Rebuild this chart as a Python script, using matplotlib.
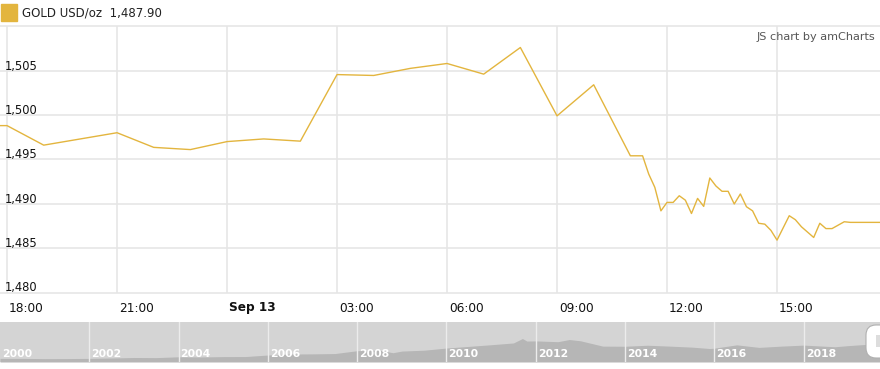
"""Gold USD/oz intraday chart with a long-range navigator strip underneath."""
from datetime import datetime, timedelta

import matplotlib.pyplot as plt
import matplotlib.dates as mdates
import matplotlib.transforms as mtransforms
from matplotlib.patches import Rectangle, FancyBboxPatch

# intraday quotes (Sep 12 -> Sep 13, 2019)
TIMES = [
    "09-12 17:00", "09-12 18:00", "09-12 19:00", "09-12 21:00", "09-12 22:00",
    "09-12 23:00", "09-13 00:00", "09-13 01:00", "09-13 02:00", "09-13 03:00",
    "09-13 04:00", "09-13 05:00", "09-13 06:00", "09-13 07:00", "09-13 08:00",
    "09-13 09:00", "09-13 10:00", "09-13 11:00", "09-13 11:20", "09-13 11:30",
    "09-13 11:40", "09-13 11:50", "09-13 12:00", "09-13 12:10", "09-13 12:20",
    "09-13 12:30", "09-13 12:40", "09-13 12:50", "09-13 13:00", "09-13 13:10",
    "09-13 13:20", "09-13 13:30", "09-13 13:40", "09-13 13:50", "09-13 14:00",
    "09-13 14:10", "09-13 14:20", "09-13 14:30", "09-13 14:40", "09-13 14:50",
    "09-13 15:00", "09-13 15:20", "09-13 15:30", "09-13 15:40", "09-13 16:00",
    "09-13 16:10", "09-13 16:20", "09-13 16:30", "09-13 16:50", "09-13 17:00",
    "09-13 17:30", "09-13 17:50",
]
PRICES = [
    1498.8, 1498.8, 1496.6, 1498.0, 1496.35,
    1496.1, 1497.0, 1497.3, 1497.05, 1504.55,
    1504.45, 1505.25, 1505.8, 1504.6, 1507.6,
    1499.9, 1503.4, 1495.4, 1495.4, 1493.35,
    1491.85, 1489.2, 1490.15, 1490.15, 1490.9,
    1490.4, 1488.9, 1490.6, 1489.7, 1492.9,
    1492.0, 1491.4, 1491.4, 1489.97, 1491.1,
    1489.66, 1489.2, 1487.8, 1487.7, 1487.0,
    1485.9, 1488.65, 1488.2, 1487.4, 1486.2,
    1487.8, 1487.2, 1487.2, 1487.97, 1487.9,
    1487.9, 1487.9,
]
Y_TICKS = [1480, 1485, 1490, 1495, 1500, 1505, 1510]
Y_LABELS = [1480, 1485, 1490, 1495, 1500, 1505]
X_TICKS = ["09-12 18:00", "09-12 21:00", "09-13 00:00", "09-13 03:00",
           "09-13 06:00", "09-13 09:00", "09-13 12:00", "09-13 15:00"]
X_LABELS = ["18:00", "21:00", "Sep 13", "03:00", "06:00", "09:00", "12:00", "15:00"]

# navigator: long-range history
NAV_YEARS = [2000.0, 2000.5, 2001.0, 2001.5, 2002.0, 2002.5, 2003.0, 2003.5,
             2004.0, 2004.5, 2005.0, 2005.5, 2006.0, 2006.5, 2007.0, 2007.5,
             2008.0, 2008.5, 2008.8, 2009.0, 2009.5, 2010.0, 2010.5, 2011.0,
             2011.5, 2011.7, 2011.8, 2012.0, 2012.5, 2012.75, 2013.0, 2013.5,
             2014.0, 2014.5, 2015.0, 2015.5, 2015.9, 2016.0, 2016.5, 2017.0,
             2017.5, 2018.0, 2018.7, 2019.0, 2019.5, 2019.7]
NAV_PRICES = [285, 285, 265, 270, 285, 315, 355, 345,
              410, 395, 425, 430, 550, 630, 640, 665,
              890, 930, 730, 860, 930, 1100, 1230, 1360,
              1500, 1850, 1650, 1660, 1600, 1770, 1670, 1250,
              1240, 1320, 1250, 1170, 1060, 1090, 1350, 1150,
              1250, 1330, 1200, 1290, 1410, 1500]
NAV_TICKS = [2000, 2002, 2004, 2006, 2008, 2010, 2012, 2014, 2016, 2018]

LEGEND_TEXT = "GOLD USD/oz  1,487.90"
GOLD = "#e3b53e"
GRID = "#e6e6e6"

W, H = 880, 369


def parse(s):
    return datetime.strptime("2019-" + s, "%Y-%m-%d %H:%M")


def main():
    fig = plt.figure(figsize=(W / 100, H / 100), dpi=100)
    t = [parse(s) for s in TIMES]

    # main plot area: y 26..292.5 px, full width
    ax = fig.add_axes([0, 1 - 292.5 / H, 1, (292.5 - 26.2) / H])
    ax.plot(t, PRICES, color=GOLD, lw=1.0, zorder=3)
    start = parse("09-12 18:00") - timedelta(minutes=11.5)
    ax.set_xlim(start, start + timedelta(hours=24))
    ax.set_ylim(1480, 1510)
    ax.set_axis_off()

    for v in Y_TICKS:
        ax.axhline(v, color=GRID, lw=1.2, clip_on=False, zorder=1)
    for s in X_TICKS:
        ax.axvline(parse(s), color=GRID, lw=1.2, zorder=1)

    ylab_tr = mtransforms.offset_copy(ax.get_yaxis_transform(), fig=fig,
                                      x=5, y=1, units="dots")
    for v in Y_LABELS:
        ax.text(0.0, v, f"{v:,}", transform=ylab_tr, fontsize=8.3,
                va="baseline", ha="left", color="#111111")

    xlab_tr = mtransforms.blended_transform_factory(
        mtransforms.offset_copy(ax.transData, fig=fig, x=2, y=0, units="dots"),
        fig.transFigure)
    for s, lab in zip(X_TICKS, X_LABELS):
        ax.text(mdates.date2num(parse(s)), 1 - 308 / H, lab, transform=xlab_tr,
                fontsize=8.7, va="center", ha="left", color="#111111",
                fontweight="bold" if lab.startswith("Sep") else "normal")

    # legend + credit
    fig.patches.append(Rectangle((1 / W, 1 - 21 / H), 16 / W, 17 / H,
                                 transform=fig.transFigure, color=GOLD))
    fig.text(22 / W, 1 - 13.5 / H, LEGEND_TEXT, fontsize=8.5, va="center",
             ha="left", color="#222222")
    fig.text(875 / W, 1 - 37 / H, "JS chart by amCharts", fontsize=8.1,
             va="center", ha="right", color="#555555")

    # navigator strip
    nav = fig.add_axes([0, 1 - 362 / H, 1, 40 / H])
    nav.set_facecolor("#d4d4d4")
    nav.fill_between(NAV_YEARS, 0, NAV_PRICES, color="#b6b6b6", lw=0)
    nav.set_xlim(2000.0, 2000.0 + W / 44.65)
    nav.set_ylim(0, 3150)
    for s in nav.spines.values():
        s.set_visible(False)
    nav.set_xticks([])
    nav.set_yticks([])
    for yr in NAV_TICKS[1:]:
        nav.axvline(yr, color="#ececec", lw=1.0)
    nav_tr = mtransforms.offset_copy(nav.transData, fig=fig, x=2, y=0, units="dots")
    for yr in NAV_TICKS:
        nav.text(yr, 250, str(yr), transform=nav_tr, fontsize=7.8, color="white",
                 fontweight="bold", va="bottom", ha="left")

    # scrollbar handle at the right edge (pixel coordinates)
    handle = FancyBboxPatch((866, H - 358), 30, 33,
                            boxstyle="round,pad=0,rounding_size=10",
                            transform=mtransforms.IdentityTransform(),
                            facecolor="white", edgecolor="#b0b0b0",
                            lw=0.8, zorder=5)
    fig.patches.append(handle)
    fig.patches.append(Rectangle((876, H - 347), 4, 12,
                                 transform=mtransforms.IdentityTransform(),
                                 facecolor="#dddddd", edgecolor="none", zorder=6))

    fig.savefig("out.png", dpi=100)


if __name__ == "__main__":
    main()
